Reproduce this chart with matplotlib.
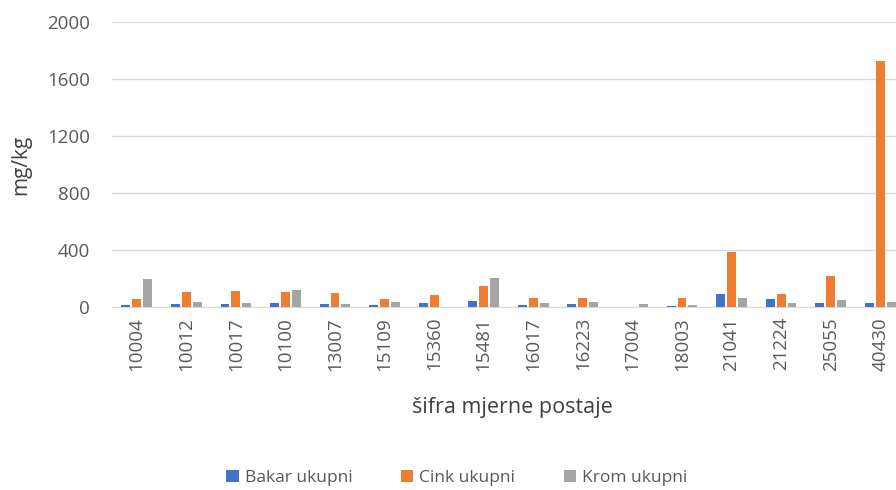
import matplotlib.pyplot as plt
import numpy as np

plt.rcParams['font.family'] = ['Open Sans', 'DejaVu Sans']

postaje = ['10004', '10012', '10017', '10100', '13007', '15109', '15360', '15481',
           '16017', '16223', '17004', '18003', '21041', '21224', '25055', '40430']
bakar = [14, 21, 21, 28, 21, 14, 33, 42, 14, 21, 0, 12, 94, 59, 28, 28]
cink = [56, 108, 113, 110, 103, 59, 85, 148, 68, 66, 0, 66, 385, 94, 216, 1728]
krom = [198, 35, 33, 120, 26, 38, 0, 204, 33, 40, 26, 19, 68, 33, 54, 38]

x = np.arange(len(postaje))
w = 0.18
step = 0.22

fig = plt.figure(figsize=(8.96, 4.9), dpi=100)
ax = fig.add_axes([112 / 896, 0.373, (905 - 112) / 896, 0.582])

ax.bar(x - step, bakar, w, color='#4472C4', label='Bakar ukupni', zorder=3)
ax.bar(x, cink, w, color='#ED7D31', label='Cink ukupni', zorder=3)
ax.bar(x + step, krom, w, color='#A5A5A5', label='Krom ukupni', zorder=3)

ax.set_xlim(-0.5, len(postaje) - 0.5)
ax.set_ylim(0, 2000)
ax.set_yticks([0, 400, 800, 1200, 1600, 2000])
ax.set_xticks(x)
ax.set_xticklabels(postaje, rotation=90)
ax.grid(axis='y', color='#d9d9d9', linewidth=1, zorder=0)
for s in ['top', 'right', 'left']:
    ax.spines[s].set_visible(False)
ax.spines['bottom'].set_color('#d9d9d9')
ax.tick_params(length=0, labelsize=13.5, colors='#595959')
ax.tick_params(axis='y', pad=16)
ax.tick_params(axis='x', pad=7)

ax.set_ylabel('mg/kg', fontsize=15, color='#404040')
ax.yaxis.set_label_coords((31 - 112) / 793, 0.5)
fig.text(512 / 896, 1 - 407 / 490, 'šifra mjerne postaje', ha='center', va='center',
         fontsize=15.5, color='#404040')

fig.legend(loc='center', bbox_to_anchor=(457 / 896, 1 - 478 / 490), ncol=3,
           frameon=False, fontsize=12.5, handlelength=0.7, handleheight=0.7,
           columnspacing=2.8, handletextpad=0.35, labelcolor='#595959')

fig.savefig('out.png', dpi=100)
